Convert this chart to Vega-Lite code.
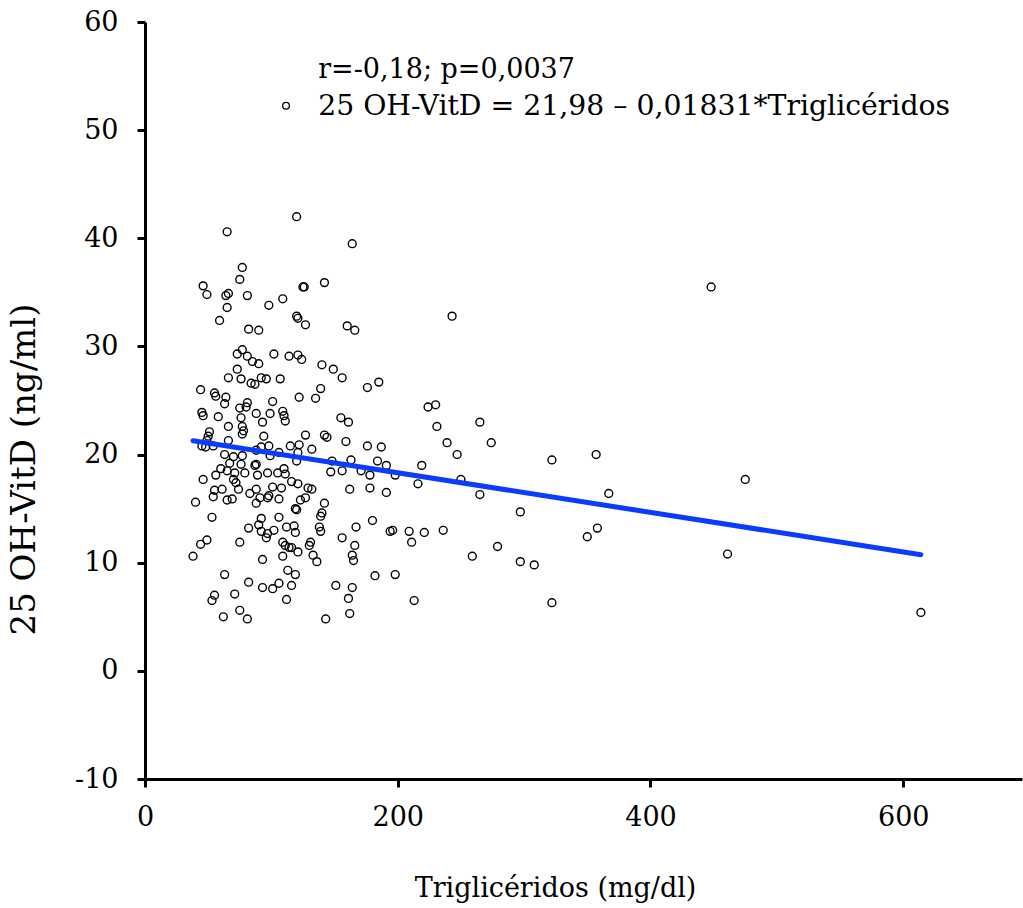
{
  "$schema": "https://vega.github.io/schema/vega-lite/v6.json",
  "width": 877,
  "height": 757,
  "autosize": {"type": "none"},
  "padding": {"left": 145, "top": 22, "right": 1, "bottom": 129},
  "background": "white",
  "config": {
    "view": {"stroke": null},
    "axis": {
      "grid": false,
      "domainColor": "black",
      "domainWidth": 3,
      "tickColor": "black",
      "tickWidth": 3,
      "tickSize": 8,
      "labelFont": "DejaVu Serif",
      "labelFontSize": 27,
      "labelColor": "black",
      "labelFlush": false,
      "labelOverlap": false,
      "titleFont": "DejaVu Serif",
      "titleFontWeight": "normal",
      "titleColor": "black"
    }
  },
  "datasets": {
    "pts": [
      {"tg":120,"vitd":42.0},{"tg":65,"vitd":40.6},{"tg":164,"vitd":39.5},{"tg":77,"vitd":37.3},{"tg":75,"vitd":36.2},
      {"tg":46,"vitd":35.6},{"tg":49,"vitd":34.8},{"tg":64,"vitd":34.7},{"tg":66,"vitd":34.9},{"tg":81,"vitd":34.7},
      {"tg":125,"vitd":35.5},{"tg":126,"vitd":35.5},{"tg":142,"vitd":35.9},{"tg":109,"vitd":34.4},{"tg":98,"vitd":33.8},
      {"tg":65,"vitd":33.6},{"tg":59,"vitd":32.4},{"tg":120,"vitd":32.8},{"tg":121,"vitd":32.6},{"tg":127,"vitd":32.0},
      {"tg":82,"vitd":31.6},{"tg":90,"vitd":31.5},{"tg":160,"vitd":31.9},{"tg":166,"vitd":31.5},{"tg":243,"vitd":32.8},
      {"tg":448,"vitd":35.5},
      {"tg":77,"vitd":29.7},{"tg":73,"vitd":29.3},{"tg":81,"vitd":29.1},{"tg":85,"vitd":28.6},{"tg":90,"vitd":28.4},
      {"tg":102,"vitd":29.3},{"tg":114,"vitd":29.1},{"tg":121,"vitd":29.2},{"tg":124,"vitd":28.8},{"tg":73,"vitd":27.9},
      {"tg":66,"vitd":27.1},{"tg":76,"vitd":27.0},{"tg":92,"vitd":27.1},{"tg":96,"vitd":27.0},{"tg":84,"vitd":26.6},
      {"tg":87,"vitd":26.5},{"tg":107,"vitd":27.0},{"tg":44,"vitd":26.0},{"tg":55,"vitd":25.7},{"tg":56,"vitd":25.4},
      {"tg":64,"vitd":25.3},{"tg":63,"vitd":24.7},{"tg":81,"vitd":24.8},{"tg":80,"vitd":24.4},{"tg":75,"vitd":24.3},
      {"tg":101,"vitd":24.9},{"tg":122,"vitd":25.3},{"tg":135,"vitd":25.2},{"tg":139,"vitd":26.1},{"tg":45,"vitd":23.9},
      {"tg":46,"vitd":23.6},{"tg":58,"vitd":23.5},{"tg":88,"vitd":23.8},{"tg":99,"vitd":23.8},{"tg":109,"vitd":24.0},
      {"tg":110,"vitd":23.6},{"tg":111,"vitd":23.1},{"tg":76,"vitd":23.4},{"tg":93,"vitd":23.0},{"tg":66,"vitd":22.6},
      {"tg":77,"vitd":22.6},{"tg":78,"vitd":22.2},{"tg":77,"vitd":21.9},{"tg":51,"vitd":22.1},{"tg":50,"vitd":21.7},
      {"tg":49,"vitd":21.3},{"tg":94,"vitd":21.7},{"tg":66,"vitd":21.3},{"tg":127,"vitd":21.8},{"tg":45,"vitd":20.8},
      {"tg":48,"vitd":20.7},{"tg":54,"vitd":20.8},{"tg":92,"vitd":20.7},{"tg":98,"vitd":20.8},{"tg":88,"vitd":20.4},
      {"tg":99,"vitd":19.9},{"tg":106,"vitd":20.2},{"tg":115,"vitd":20.8},{"tg":122,"vitd":20.9},{"tg":121,"vitd":20.2},
      {"tg":132,"vitd":20.5},{"tg":120,"vitd":19.4},{"tg":63,"vitd":20.0},{"tg":70,"vitd":19.8},{"tg":77,"vitd":19.9},
      {"tg":67,"vitd":19.2},{"tg":76,"vitd":19.1},{"tg":87,"vitd":19.0},{"tg":88,"vitd":19.1},{"tg":60,"vitd":18.7},
      {"tg":65,"vitd":18.5},{"tg":56,"vitd":18.1},{"tg":71,"vitd":18.3},{"tg":79,"vitd":18.3},{"tg":89,"vitd":18.1},
      {"tg":97,"vitd":18.3},{"tg":105,"vitd":18.3},{"tg":110,"vitd":18.7},{"tg":111,"vitd":18.2},{"tg":46,"vitd":17.7},
      {"tg":70,"vitd":17.7},{"tg":72,"vitd":17.4},{"tg":116,"vitd":17.5},{"tg":121,"vitd":17.3},{"tg":129,"vitd":16.9},
      {"tg":132,"vitd":16.8},
      {"tg":55,"vitd":16.7},{"tg":61,"vitd":16.8},{"tg":54,"vitd":16.1},{"tg":74,"vitd":16.8},{"tg":83,"vitd":16.4},
      {"tg":88,"vitd":16.8},{"tg":91,"vitd":16.0},{"tg":97,"vitd":16.0},{"tg":98,"vitd":16.2},{"tg":106,"vitd":15.9},
      {"tg":101,"vitd":17.0},{"tg":108,"vitd":16.9},{"tg":40,"vitd":15.6},{"tg":65,"vitd":15.8},{"tg":69,"vitd":15.9},
      {"tg":88,"vitd":15.5},{"tg":123,"vitd":15.8},{"tg":127,"vitd":16.0},{"tg":119,"vitd":15.0},{"tg":120,"vitd":14.9},
      {"tg":140,"vitd":14.6},{"tg":139,"vitd":14.3},{"tg":142,"vitd":15.5},{"tg":53,"vitd":14.2},{"tg":92,"vitd":14.1},
      {"tg":90,"vitd":13.5},{"tg":106,"vitd":14.2},{"tg":82,"vitd":13.2},{"tg":92,"vitd":12.9},{"tg":97,"vitd":12.7},
      {"tg":96,"vitd":12.3},{"tg":102,"vitd":13.0},{"tg":112,"vitd":13.3},{"tg":118,"vitd":13.4},{"tg":119,"vitd":12.8},
      {"tg":138,"vitd":13.3},{"tg":139,"vitd":12.9},{"tg":49,"vitd":12.1},{"tg":44,"vitd":11.7},{"tg":75,"vitd":11.9},
      {"tg":109,"vitd":11.9},{"tg":111,"vitd":11.6},{"tg":116,"vitd":11.4},{"tg":114,"vitd":11.4},{"tg":121,"vitd":11.0},
      {"tg":131,"vitd":11.9},{"tg":130,"vitd":11.6},{"tg":133,"vitd":10.7},{"tg":136,"vitd":10.1},{"tg":38,"vitd":10.6},
      {"tg":109,"vitd":10.6},{"tg":93,"vitd":10.3},{"tg":63,"vitd":8.9},{"tg":113,"vitd":9.3},{"tg":119,"vitd":8.9},
      {"tg":82,"vitd":8.2},{"tg":106,"vitd":8.1},{"tg":101,"vitd":7.6},{"tg":93,"vitd":7.7},{"tg":116,"vitd":7.9},
      {"tg":55,"vitd":7.0},{"tg":53,"vitd":6.5},{"tg":71,"vitd":7.1},{"tg":112,"vitd":6.6},{"tg":75,"vitd":5.6},
      {"tg":62,"vitd":5.0},{"tg":81,"vitd":4.8},
      {"tg":140,"vitd":28.3},{"tg":149,"vitd":27.9},{"tg":156,"vitd":27.1},{"tg":176,"vitd":26.2},{"tg":185,"vitd":26.7},
      {"tg":224,"vitd":24.4},{"tg":230,"vitd":24.6},{"tg":231,"vitd":22.6},{"tg":155,"vitd":23.4},{"tg":161,"vitd":23.0},
      {"tg":142,"vitd":21.8},{"tg":144,"vitd":21.6},{"tg":159,"vitd":21.2},{"tg":176,"vitd":20.8},{"tg":187,"vitd":20.7},
      {"tg":239,"vitd":21.1},{"tg":247,"vitd":20.0},{"tg":148,"vitd":19.4},{"tg":163,"vitd":19.5},{"tg":184,"vitd":19.4},
      {"tg":191,"vitd":19.0},{"tg":219,"vitd":19.0},{"tg":147,"vitd":18.4},{"tg":156,"vitd":18.5},{"tg":171,"vitd":18.5},
      {"tg":178,"vitd":18.1},{"tg":198,"vitd":18.1},{"tg":216,"vitd":17.3},{"tg":265,"vitd":23.0},{"tg":274,"vitd":21.1},
      {"tg":322,"vitd":19.5},{"tg":357,"vitd":20.0},{"tg":250,"vitd":17.7},{"tg":265,"vitd":16.3},{"tg":367,"vitd":16.4},
      {"tg":162,"vitd":16.8},{"tg":178,"vitd":16.9},{"tg":191,"vitd":16.5},{"tg":297,"vitd":14.7},{"tg":180,"vitd":13.9},
      {"tg":156,"vitd":12.3},{"tg":167,"vitd":13.3},{"tg":194,"vitd":12.9},{"tg":196,"vitd":13.0},{"tg":209,"vitd":12.9},
      {"tg":211,"vitd":11.9},{"tg":221,"vitd":12.8},{"tg":236,"vitd":13.0},{"tg":350,"vitd":12.4},{"tg":358,"vitd":13.2},
      {"tg":166,"vitd":11.6},{"tg":164,"vitd":10.7},{"tg":165,"vitd":10.2},{"tg":259,"vitd":10.6},{"tg":279,"vitd":11.5},
      {"tg":297,"vitd":10.1},{"tg":308,"vitd":9.8},{"tg":182,"vitd":8.8},{"tg":198,"vitd":8.9},{"tg":151,"vitd":7.9},
      {"tg":164,"vitd":7.7},{"tg":161,"vitd":6.7},{"tg":213,"vitd":6.5},{"tg":322,"vitd":6.3},{"tg":162,"vitd":5.3},
      {"tg":143,"vitd":4.8},
      {"tg":475,"vitd":17.7},{"tg":461,"vitd":10.8},{"tg":614,"vitd":5.4}
    ],
    "fit": [
      {"tg": 38, "vitd": 21.28},
      {"tg": 614, "vitd": 10.74}
    ]
  },
  "layer": [
    {
      "data": {"name": "pts"},
      "mark": {"type": "point", "shape": "circle", "filled": false, "stroke": "black", "strokeWidth": 1.4, "size": 62, "opacity": 1},
      "encoding": {
        "x": {
          "field": "tg", "type": "quantitative",
          "scale": {"domain": [0, 694], "nice": false, "zero": false},
          "axis": {
            "title": "Triglicéridos  (mg/dl)",
            "values": [0, 200, 400, 600],
            "labelPadding": 17,
            "titleFontSize": 27,
            "titleX": 410,
            "titleY": 109,
            "titleAlign": "center",
            "titleBaseline": "middle"
          }
        },
        "y": {
          "field": "vitd", "type": "quantitative",
          "scale": {"domain": [-10, 60], "nice": false, "zero": false},
          "axis": {
            "title": "25 OH-VitD (ng/ml)",
            "values": [-10, 0, 10, 20, 30, 40, 50, 60],
            "labelExpr": "'' + datum.value",
            "labelPadding": 19,
            "titleFontSize": 34,
            "titleAngle": -90,
            "titleX": -121,
            "titleY": 447,
            "titleAlign": "center",
            "titleBaseline": "middle"
          }
        }
      }
    },
    {
      "data": {"name": "fit"},
      "mark": {"type": "line", "color": "#0a3cff", "strokeWidth": 5, "strokeCap": "round"},
      "encoding": {
        "x": {"field": "tg", "type": "quantitative"},
        "y": {"field": "vitd", "type": "quantitative"}
      }
    },
    {
      "data": {"values": [{"label": "r=-0,18; p=0,0037"}]},
      "mark": {"type": "text", "align": "left", "baseline": "middle", "font": "DejaVu Serif", "fontSize": 27, "color": "black"},
      "encoding": {
        "x": {"datum": 137, "type": "quantitative"},
        "y": {"datum": 55.6, "type": "quantitative"},
        "text": {"field": "label"}
      }
    },
    {
      "data": {"values": [{"label": "25 OH-VitD = 21,98 – 0,01831*Triglicéridos"}]},
      "mark": {"type": "text", "align": "left", "baseline": "middle", "font": "DejaVu Serif", "fontSize": 28.3, "color": "black"},
      "encoding": {
        "x": {"datum": 137, "type": "quantitative"},
        "y": {"datum": 52.15, "type": "quantitative"},
        "text": {"field": "label"}
      }
    },
    {
      "data": {"values": [{"label": "symbol"}]},
      "mark": {"type": "point", "shape": "circle", "filled": false, "stroke": "black", "strokeWidth": 1.3, "size": 45, "opacity": 1},
      "encoding": {
        "x": {"datum": 111.6, "type": "quantitative"},
        "y": {"datum": 52.25, "type": "quantitative"}
      }
    }
  ]
}
